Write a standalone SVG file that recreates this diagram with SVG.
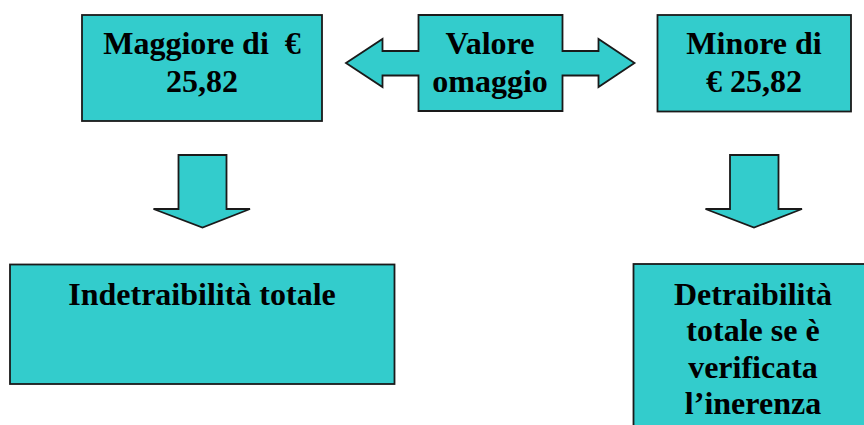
<svg xmlns="http://www.w3.org/2000/svg" width="864" height="425" viewBox="0 0 864 425">
<style>
.shape{fill:#33CCCC;stroke:#1a1a1a;stroke-width:1.8;stroke-linejoin:miter}
.t{font-family:"Liberation Serif","Times New Roman",serif;font-weight:bold;font-size:32px;fill:#000;text-anchor:middle}
</style>
<rect width="864" height="425" fill="#fff"/>
<g id="connectors">
<polygon class="shape" points="178.5,155 226.5,155 226.5,209 250,209 202.5,227.5 153.5,209 178.5,209"/>
<polygon class="shape" points="730,155 778.5,155 778.5,209 802,209 754,227.5 705.5,209 730,209"/>
</g>
<g id="node-maggiore">
<rect class="shape" x="82" y="15" width="240" height="106"/>
<text class="t" x="202" y="54" xml:space="preserve">Maggiore di  €</text>
<text class="t" x="202" y="92">25,82</text>
</g>
<g id="node-valore">
<polygon class="shape" points="418.5,15 562.5,15 562.5,51 598.5,51 598.5,39 634.5,63 598.5,87 598.5,75.5 562.5,75.5 562.5,111 418.5,111 418.5,75.5 382.5,75.5 382.5,87 346,63 382.5,39 382.5,51 418.5,51"/>
<text class="t" x="490" y="54">Valore</text>
<text class="t" x="490" y="92">omaggio</text>
</g>
<g id="node-minore">
<rect class="shape" x="657.5" y="15" width="193.5" height="96.5"/>
<text class="t" x="754" y="54">Minore di</text>
<text class="t" x="754" y="92">€ 25,82</text>
</g>
<g id="node-indetraibilita">
<rect class="shape" x="10" y="264.5" width="384.5" height="119.5"/>
<text class="t" x="202" y="305">Indetraibilità totale</text>
</g>
<g id="node-detraibilita">
<rect class="shape" x="633.5" y="264" width="245" height="175"/>
<text class="t" x="753" y="305">Detraibilità</text>
<text class="t" x="753" y="341">totale se è</text>
<text class="t" x="753" y="377.5">verificata</text>
<text class="t" x="753" y="414">l’inerenza</text>
</g>
</svg>
